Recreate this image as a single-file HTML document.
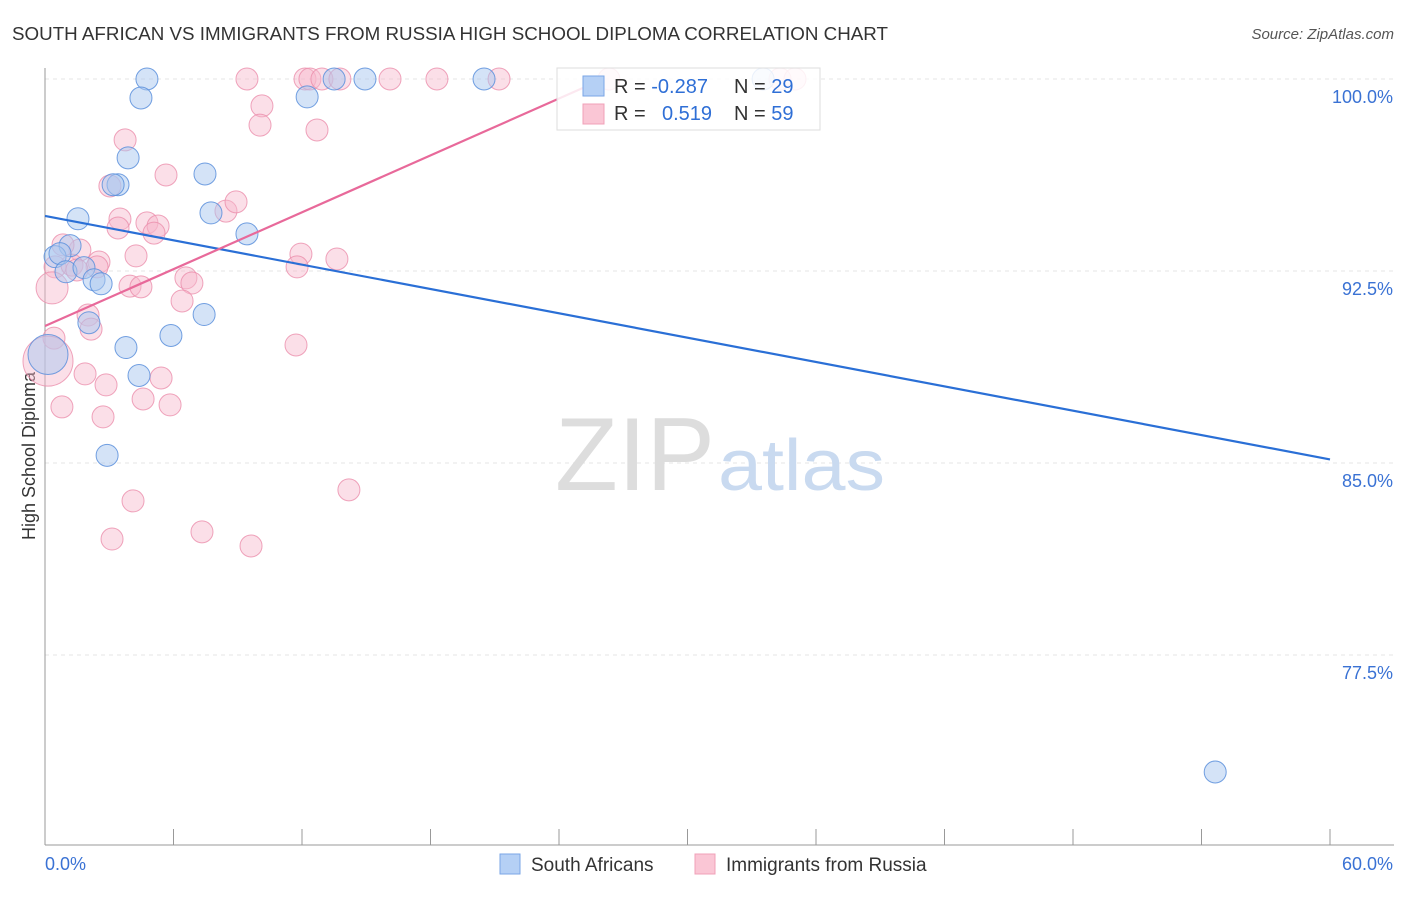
<!DOCTYPE html>
<html><head><meta charset="utf-8"><style>
body{margin:0;background:#fff;font-family:"Liberation Sans",sans-serif}
svg text{font-family:"Liberation Sans",sans-serif}
</style></head><body>
<svg id="chart" width="1406" height="892" xmlns="http://www.w3.org/2000/svg">
<text x="12" y="40" font-size="18" fill="#333" textLength="876" lengthAdjust="spacingAndGlyphs">SOUTH AFRICAN VS IMMIGRANTS FROM RUSSIA HIGH SCHOOL DIPLOMA CORRELATION CHART</text>
<text x="1394" y="39" font-size="15" fill="#555" text-anchor="end" font-style="italic">Source: ZipAtlas.com</text>
<text x="35" y="456" font-size="18" fill="#333" text-anchor="middle" transform="rotate(-90 35 456)">High School Diploma</text>
<g id="grid"></g>
<text x="555" y="490" font-size="104" fill="#ddd" textLength="160" lengthAdjust="spacingAndGlyphs" font-family="Liberation Serif">ZIP</text>
<text x="718" y="490" font-size="72" fill="#c9daf0" textLength="167" lengthAdjust="spacingAndGlyphs">atlas</text>
<g id="marks"></g>
<g>
<rect x="557" y="68" width="263" height="62" fill="#fff" fill-opacity="0.85" stroke="#ddd"/>
<rect x="583" y="76" width="21" height="20" fill="#b5d0f5" stroke="#7aa6e6"/>
<rect x="583" y="104" width="21" height="20" fill="#fac6d5" stroke="#f0a0b8"/>
<text x="614" y="93" font-size="20" fill="#333">R = <tspan fill="#2f6fd6">-0.287</tspan></text>
<text x="734" y="93" font-size="20" fill="#333">N = <tspan fill="#2f6fd6">29</tspan></text>
<text x="614" y="120" font-size="20" fill="#333">R = </text>
<text x="662" y="120" font-size="20" fill="#2f6fd6">0.519</text>
<text x="734" y="120" font-size="20" fill="#333">N = <tspan fill="#2f6fd6">59</tspan></text>
</g>
<g>
<rect x="500" y="854" width="20" height="20" fill="#b5d0f5" stroke="#7aa6e6"/>
<text x="531" y="871" font-size="19" fill="#333">South Africans</text>
<rect x="695" y="854" width="20" height="20" fill="#fac6d5" stroke="#f0a0b8"/>
<text x="726" y="871" font-size="19" fill="#333">Immigrants from Russia</text>
</g>
</svg>
<script>
const blueX=[4.76,4.48,3.88,3.41,3.18,1.54,1.17,0.47,0.70,0.98,1.82,2.29,2.62,2.05,3.78,5.88,7.43,4.39,2.90,7.47,7.75,9.43,12.24,13.50,14.94,20.50,33.53,54.64,0.14];
const blueY=[100,99.26,96.92,95.87,95.87,94.54,93.49,93.06,93.18,92.47,92.63,92.16,92.00,90.48,89.51,89.98,90.80,88.42,85.30,96.29,94.77,93.95,99.30,100,100,100,100,72.93,89.24];
const pinkX=[9.43,12.14,12.37,12.93,13.77,16.11,18.30,21.20,26.33,34.32,35.02,10.13,10.04,12.70,3.74,5.65,3.03,8.45,8.92,3.50,3.41,4.76,5.28,5.09,11.95,11.77,13.63,4.25,1.63,0.84,0.47,1.26,2.52,2.43,1.49,0.33,3.97,4.48,6.58,6.86,6.40,2.01,2.15,0.42,0.14,11.72,1.87,2.85,5.42,0.79,4.58,5.84,2.71,4.11,3.13,7.33,9.62,14.19];
const pinkY=[100,100,100,100,100,100,100,100,100,100,100,98.95,98.20,98.01,97.62,96.25,95.82,94.84,95.20,94.53,94.18,94.38,94.26,93.98,93.16,92.66,92.97,93.09,93.32,93.52,92.66,92.73,92.85,92.66,92.54,91.84,91.91,91.88,92.23,92.03,91.33,90.78,90.23,89.88,88.98,89.61,88.48,88.05,88.32,87.19,87.50,87.27,86.80,83.52,82.03,82.31,81.76,83.95];
const yTicks=[100,92.5,85,77.5];
const yTickLabels=["100.0%","92.5%","85.0%","77.5%"];
const xTicks=[0,6,12,18,24,30,36,42,48,54,60];
const blueTrend=[94.65,85.14];
const pinkTrend=[90.35,100.2];
const X=v=>45+v/60*1285;
const Y=v=>79+(100-v)/7.5*192;
const NS="http://www.w3.org/2000/svg";
function mk(tag,attrs,parent){const e=document.createElementNS(NS,tag);for(const k in attrs)e.setAttribute(k,attrs[k]);parent.appendChild(e);return e;}
const grid=document.getElementById('grid'),marks=document.getElementById('marks');
yTicks.forEach((t,i)=>{
 const l=mk('line',{x1:45,x2:1394,y1:Y(t),y2:Y(t),stroke:'#e4e4e4','stroke-dasharray':'4,4'},grid);
 
 
 const tx=mk('text',{x:1393,y:Y(t)+24,'font-size':18,fill:'#3a72d4','text-anchor':'end'},grid);
 tx.textContent=yTickLabels[i];
 
 
});
const ax=mk('line',{x1:45,x2:45,y1:68,y2:845,stroke:'#999'},grid);


const bx=mk('line',{x1:45,x2:1394,y1:845,y2:845,stroke:'#999'},grid);


xTicks.forEach(t=>{const l=mk('line',{x1:X(t),x2:X(t),y1:829,y2:845,stroke:'#999'},grid);
 
 });
const xl=mk('text',{x:45,y:870,'font-size':18,fill:'#3a72d4'},grid);xl.textContent='0.0%';


const xr=mk('text',{x:1393,y:870,'font-size':18,fill:'#3a72d4','text-anchor':'end'},grid);xr.textContent='60.0%';


pinkX.forEach((x,i)=>{const r=i===44?25:(i===35?16:11);
 const c=mk('circle',{cx:X(x),cy:Y(pinkY[i]),r:r,fill:'#f7b8cb','fill-opacity':0.45,stroke:'#eb8dab','stroke-opacity':0.8},marks);
 
 });
blueX.forEach((x,i)=>{const r=i===28?20:11;
 const c=mk('circle',{cx:X(x),cy:Y(blueY[i]),r:r,fill:'#a9c8f0','fill-opacity':0.5,stroke:'#5a8fdc','stroke-opacity':0.85},marks);
 
 });
const bt=mk('line',{x1:X(0),y1:Y(blueTrend[0]),x2:X(60),y2:Y(blueTrend[1]),stroke:'#2a6fd6','stroke-width':2.2},marks);


const xEnd=(100-pinkTrend[0])/((pinkTrend[1]-pinkTrend[0])/26.6);
const pt=mk('line',{x1:X(0),y1:Y(pinkTrend[0]),x2:X(xEnd),y2:Y(100),stroke:'#e8699a','stroke-width':2.2},marks);


</script>
</body></html>
